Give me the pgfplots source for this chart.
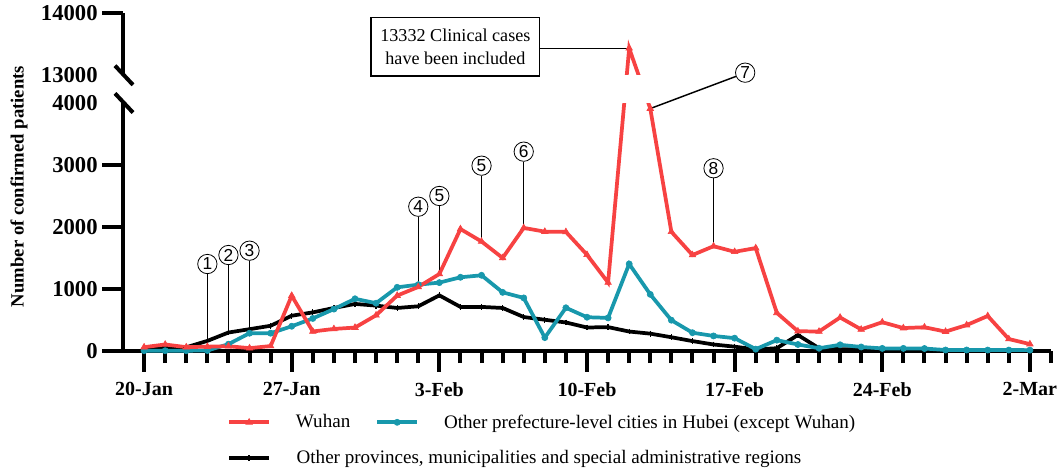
\documentclass[border=0pt]{standalone}
\usepackage{pgfplots}
\pgfplotsset{compat=1.18}
\usepackage{pgfplotstable}
\usepackage{fontspec}
\setmainfont{Liberation Serif}
\newfontfamily\arialfont{Liberation Sans}
\definecolor{wred}{RGB}{247,66,66}
\definecolor{hteal}{RGB}{24,152,172}

\pgfplotstableread{
d v
0 62
1 105
2 62
3 70
4 77
5 46
6 80
7 892
8 315
9 356
10 378
11 576
12 894
13 1033
14 1242
15 1967
16 1766
17 1501
18 1985
19 1925
20 1921
21 1552
22 1104
23 13436
24 3910
25 1923
26 1548
27 1690
28 1600
29 1660
30 615
31 319
32 314
33 541
34 348
35 464
36 370
37 383
38 313
39 418
40 565
41 193
42 111
}\wuhan

\pgfplotstableread{
d v
0 5
1 5
2 5
3 8
4 110
5 287
6 287
7 399
8 525
9 676
10 842
11 771
12 1027
13 1070
14 1103
15 1189
16 1221
17 946
18 856
19 216
20 697
21 545
22 534
23 1404
24 913
25 497
26 295
27 243
28 207
29 30
30 175
31 105
32 45
33 100
34 65
35 42
36 42
37 40
38 16
39 16
40 15
41 15
42 14
}\hubei

\pgfplotstableread{
d v
0 10
1 65
2 60
3 163
4 298
5 352
6 407
7 569
8 623
9 694
10 759
11 732
12 694
13 721
14 897
15 711
16 711
17 694
18 548
19 504
20 460
21 379
22 385
23 314
24 280
25 222
26 160
27 105
28 70
29 25
30 45
31 258
32 45
33 30
34 25
35 20
36 15
37 12
38 10
39 8
40 8
41 5
42 5
}\others

\tikzset{
  circ/.style={circle, draw, line width=0.6pt, fill=white, minimum size=14.5pt, inner sep=0pt, font=\arialfont\fontsize{13}{13}\selectfont},
  ann/.style={line width=1.1pt, black},
}

\begin{document}
\begin{tikzpicture}
\begin{axis}[
  at={(0pt,0pt)}, anchor=south west,
  scale only axis, width=696pt, height=253.3pt,
  xmin=-1, xmax=43, ymin=0, ymax=14000,
  y coord trafo/.code={\pgfmathparse{#1>8500 ? #1-8553 : #1}},
  y coord inv trafo/.code={\pgfmathparse{#1>4447 ? #1+8553 : #1}},
  axis x line*=bottom, axis y line*=left,
  axis line style={-, line width=3pt},
  tick align=outside,
  tick style={line width=3pt, black},
  major tick length=15.5pt, minor tick length=9pt,
  xtick={0,7,14,21,28,35,42},
  xticklabels={20-Jan,27-Jan,3-Feb,10-Feb,17-Feb,24-Feb,2-Mar},
  minor xtick={0,...,43},
  ytick={0,1000,2000,3000,14000},
  yticklabels={0,1000,2000,3000,14000},
  extra y ticks={4000,13000},
  extra y tick labels={4000,13000},
  extra y tick style={major tick style={draw=none}},
  xticklabel style={font=\bfseries\fontsize{15}{15}\selectfont, yshift=-4.5pt},
  yticklabel style={font=\bfseries\fontsize{17}{17}\selectfont},
  clip=false,
  legend columns=2,
  legend cell align=left,
  legend image code/.code={\draw[mark repeat=2,mark phase=2,#1] plot coordinates {(0pt,0pt) (15pt,0pt) (30pt,0pt)};},
  legend style={at={(rel axis cs:0,0)}, anchor=north west, xshift=78pt, yshift=-47.5pt,
    draw=none, fill=none, inner sep=0pt, row sep=15.5pt,
    font=\fontsize{14.3}{16}\selectfont,
    nodes={inner sep=0pt},
    /tikz/every odd column/.append style={column sep=18.75pt},
    /tikz/every even column/.append style={column sep=18.75pt}},
  redst/.style={color=wred, line width=2.8pt, mark=triangle*, mark size=2.8pt, mark options={solid, line width=0.5pt, fill=wred}},
  tealst/.style={color=hteal, line width=2.8pt, mark=*, mark size=2.3pt, mark options={solid, line width=0.5pt, fill=hteal}},
  blackst/.style={color=black, line width=2.8pt, mark=+, mark size=2.2pt, mark options={solid, line width=1pt}},
]
\addlegendimage{redst}
\addlegendentry{Wuhan\hspace{9pt}}
\addlegendimage{tealst}
\addlegendentry{Other prefecture-level cities in Hubei (except Wuhan)}
\addlegendimage{blackst}
\addlegendentry{\makebox[0pt][l]{Other provinces, municipalities and special administrative regions}}

\addplot[blackst, forget plot] table[x=d,y=v] {\others};
\addplot[tealst, forget plot] table[x=d,y=v] {\hubei};
\addplot[redst, forget plot] table[x=d,y=v] {\wuhan};

% broken axis gap
\fill[white] (axis cs:-1.7,4000) rectangle (axis cs:43.5,13000);
\draw[line width=3pt] ([shift={(-6pt,7.2pt)}]axis cs:-1,4000) -- ([shift={(7.5pt,-7.2pt)}]axis cs:-1,4000);
\draw[line width=3pt] ([shift={(-6pt,7.2pt)}]axis cs:-1,13000) -- ([shift={(7.5pt,-7.2pt)}]axis cs:-1,13000);

% annotations
\node[circ] (c1) at (axis cs:3,1403) {1};
\draw[ann] (c1.south) -- (axis cs:3,163);
\node[circ] (c2) at (axis cs:4,1548) {2};
\draw[ann] (c2.south) -- (axis cs:4,298);
\node[circ] (c3) at (axis cs:5,1618) {3};
\draw[ann] (c3.south) -- (axis cs:5,352);
\node[circ] (c4) at (axis cs:13,2327) {4};
\draw[ann] (c4.south) -- (axis cs:13,1070);
\node[circ] (c5) at (axis cs:14,2500) {5};
\draw[ann] (c5.south) -- (axis cs:14,1242);
\node[circ] (c5b) at (axis cs:16,2989) {5};
\draw[ann] (c5b.south) -- (axis cs:16,1766);
\node[circ] (c6) at (axis cs:18,3215) {6};
\draw[ann] (c6.south) -- (axis cs:18,1985);
\node[circ] (c8) at (axis cs:27,2947) {8};
\draw[ann] (c8.south) -- (axis cs:27,1690);
\node[circ] (c7) at (axis cs:28.5,13042) {7};
\draw[ann] (axis cs:24,3910) -- (c7.202);

\node[draw, line width=1pt, minimum width=126.5pt, minimum height=44pt, align=center,
  font=\fontsize{13.6}{17}\selectfont] (box) at (axis cs:14.76,13461)
  {13332 Clinical cases\\have been included};
\coordinate (pk) at (axis cs:23,13436);
\draw[line width=1pt] (pk) -- (box.east |- pk);
\end{axis}
\node[rotate=90, font=\bfseries\fontsize{14}{14}\selectfont] at (-78pt,123.4pt) {Number of confirmed patients};
\pgfresetboundingbox
\path[use as bounding box] (-92.25pt,-87.75pt) rectangle (703.5pt,263.25pt);
\end{tikzpicture}
\end{document}
